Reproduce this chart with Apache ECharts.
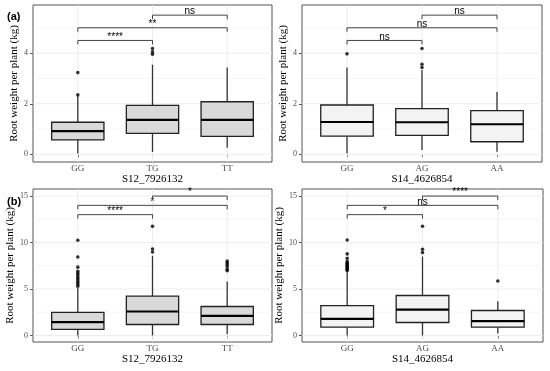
<!DOCTYPE html>
<html><head><meta charset="utf-8">
<script src="https://cdn.jsdelivr.net/npm/echarts@6/dist/echarts.min.js"></script>
<style>html,body{margin:0;padding:0;background:#fff}#c{width:550px;height:371px}</style>
</head><body><div id="c"></div>
<script>
// ---------- data ----------
const catsS12 = ['GG', 'TG', 'TT'];
const catsS14 = ['GG', 'AG', 'AA'];
const snpS12 = 'S12_7926132';
const snpS14 = 'S14_4626854';
const yTitle = 'Root weight per plant (kg)';

// boxes: [whiskerLow, Q1, median, Q3, whiskerHigh]
const boxA_S12 = [[0.04, 0.57, 0.92, 1.27, 2.3], [0.1, 0.83, 1.36, 1.94, 3.54], [0.26, 0.71, 1.36, 2.08, 3.43]];
const boxA_S14 = [[0.04, 0.72, 1.28, 1.95, 3.43], [0.17, 0.75, 1.27, 1.81, 3.33], [0.1, 0.5, 1.19, 1.73, 2.46]];
const boxB_S12 = [[0, 0.65, 1.43, 2.48, 5.13], [0, 1.18, 2.58, 4.23, 8.58], [0.14, 1.18, 2.12, 3.12, 5.82]];
const boxB_S14 = [[0, 0.9, 1.79, 3.22, 6.95], [0, 1.4, 2.79, 4.3, 8.49], [0.21, 0.9, 1.54, 2.69, 3.69]];

// outliers: [category index (1-based), value]
const outA_S12 = [[1, 2.35], [1, 3.23], [2, 3.96], [2, 4.05], [2, 4.18]];
const outA_S14 = [[1, 3.97], [2, 3.43], [2, 3.56], [2, 4.18]];
const outB_S12 = [[1, 5.3], [1, 5.5], [1, 5.7], [1, 5.9], [1, 6.1], [1, 6.3], [1, 6.5], [1, 6.7], [1, 6.9], [1, 7.35], [1, 8.44], [1, 10.25],
  [2, 8.98], [2, 9.3], [2, 11.74],
  [3, 6.96], [3, 7.1], [3, 7.4], [3, 7.6], [3, 7.8], [3, 8.0]];
const outB_S14 = [[1, 7.0], [1, 7.1], [1, 7.2], [1, 7.3], [1, 7.4], [1, 7.5], [1, 7.6], [1, 7.7], [1, 7.8], [1, 7.95], [1, 8.3], [1, 8.78], [1, 10.28],
  [2, 8.92], [2, 9.28], [2, 11.75],
  [3, 5.87]];

// brackets: [from cat, to cat, height]
const brA_S12 = [[1, 2, 4.5], [1, 3, 5.0], [2, 3, 5.5]];
const brA_S14 = [[1, 2, 4.5], [1, 3, 5.0], [2, 3, 5.5]];
const brB_S12 = [[1, 2, 13.0], [1, 3, 14.0], [2, 3, 15.0]];
const brB_S14 = [[1, 2, 13.0], [1, 3, 14.0], [2, 3, 15.0]];
const sigA_S12 = ['****', '**', 'ns'];
const sigA_S14 = ['ns', 'ns', 'ns'];
const sigB_S12 = ['****', '*', '*'];
const sigB_S14 = ['*', 'ns', '****'];

const ticksA = [0, 2, 4];
const minorA = [1, 3, 5];
const ticksB = [0, 5, 10, 15];
const minorB = [2.5, 7.5, 12.5];
const rangeA = [-0.3, 5.9];
const rangeB = [-0.7, 15.76];

// ---------- chart ----------
const SERIF = '"Liberation Serif", "DejaVu Serif", serif';
const SANS = '"Liberation Sans", Arial, sans-serif';
const chart = echarts.init(document.getElementById('c'), null, {renderer: 'canvas'});

const panels = [
  {grid: {left: 33, top: 5, width: 239, height: 157}, cats: catsS12, snp: snpS12, box: boxA_S12, out: outA_S12, br: brA_S12, sig: sigA_S12, ticks: ticksA, minor: minorA, range: rangeA, fill: '#d9d9d9'},
  {grid: {left: 302, top: 5, width: 240, height: 157}, cats: catsS14, snp: snpS14, box: boxA_S14, out: outA_S14, br: brA_S14, sig: sigA_S14, ticks: ticksA, minor: minorA, range: rangeA, fill: '#f3f3f3'},
  {grid: {left: 33, top: 189, width: 239, height: 153}, cats: catsS12, snp: snpS12, box: boxB_S12, out: outB_S12, br: brB_S12, sig: sigB_S12, ticks: ticksB, minor: minorB, range: rangeB, fill: '#d9d9d9'},
  {grid: {left: 302, top: 189, width: 241, height: 153}, cats: catsS14, snp: snpS14, box: boxB_S14, out: outB_S14, br: brB_S14, sig: sigB_S14, ticks: ticksB, minor: minorB, range: rangeB, fill: '#f3f3f3'}
];

const grids = [], xAxes = [], yAxes = [], series = [];
panels.forEach((p, i) => {
  grids.push(Object.assign({show: true, borderColor: '#555', borderWidth: 1, backgroundColor: 'transparent'}, p.grid));
  xAxes.push({
    type: 'value', gridIndex: i, min: 0.4, max: 3.6,
    name: p.snp, nameLocation: 'middle', nameGap: 11,
    nameTextStyle: {fontFamily: SERIF, fontSize: 11, color: '#000'},
    axisLine: {show: false}, splitLine: {show: false},
    axisTick: {show: true, customValues: [1, 2, 3], length: 3, lineStyle: {color: '#555'}},
    axisLabel: {customValues: [1, 2, 3], margin: 2, fontFamily: SERIF, fontSize: 9, color: '#4d4d4d',
      formatter: v => p.cats[Math.round(v) - 1] || ''}
  });
  yAxes.push({
    type: 'value', gridIndex: i, min: p.range[0], max: p.range[1],
    name: yTitle, nameLocation: 'middle', nameGap: 13,
    nameTextStyle: {fontFamily: SERIF, fontSize: 11, color: '#000'},
    axisLine: {show: false}, splitLine: {show: false},
    axisTick: {show: true, customValues: p.ticks, length: 3, lineStyle: {color: '#555'}},
    axisLabel: {customValues: p.ticks, margin: 5, fontFamily: SERIF, fontSize: 8, color: '#4d4d4d'}
  });
  // grid lines
  const gl = [];
  p.ticks.forEach(v => gl.push([0, v, 1]));
  p.minor.forEach(v => gl.push([0, v, 0]));
  [1, 2, 3].forEach(v => gl.push([1, v, 1]));
  series.push({
    type: 'custom', xAxisIndex: i, yAxisIndex: i, silent: true, z: 1,
    data: gl,
    renderItem: (params, api) => {
      const cs = params.coordSys;
      const vert = api.value(0) === 1, val = api.value(1), major = api.value(2) === 1;
      const w = major ? 0.9 : 0.5;
      if (vert) {
        const x = api.coord([val, p.range[0]])[0];
        return {type: 'line', shape: {x1: x, y1: cs.y, x2: x, y2: cs.y + cs.height}, style: {stroke: '#ebebeb', lineWidth: w}};
      }
      const y = api.coord([1, val])[1];
      return {type: 'line', shape: {x1: cs.x, y1: y, x2: cs.x + cs.width, y2: y}, style: {stroke: '#ebebeb', lineWidth: w}};
    }
  });
  // boxes
  series.push({
    type: 'custom', xAxisIndex: i, yAxisIndex: i, silent: true, z: 3,
    data: p.box.map((b, k) => [k + 1].concat(b)),
    renderItem: (params, api) => {
      const x = api.value(0);
      const lo = api.coord([x, api.value(1)]), q1 = api.coord([x, api.value(2)]),
        md = api.coord([x, api.value(3)]), q3 = api.coord([x, api.value(4)]), hi = api.coord([x, api.value(5)]);
      const hw = api.coord([x + 0.35, 0])[0] - api.coord([x, 0])[0];
      const cx = lo[0];
      return {type: 'group', children: [
        {type: 'line', shape: {x1: cx, y1: lo[1], x2: cx, y2: q1[1]}, style: {stroke: '#333', lineWidth: 1.3}},
        {type: 'line', shape: {x1: cx, y1: q3[1], x2: cx, y2: hi[1]}, style: {stroke: '#333', lineWidth: 1.3}},
        {type: 'rect', shape: {x: cx - hw, y: q3[1], width: 2 * hw, height: q1[1] - q3[1]}, style: {fill: p.fill, stroke: '#222', lineWidth: 1.3}},
        {type: 'line', shape: {x1: cx - hw, y1: md[1], x2: cx + hw, y2: md[1]}, style: {stroke: '#000', lineWidth: 2.2}}
      ]};
    }
  });
  // outliers
  series.push({
    type: 'scatter', xAxisIndex: i, yAxisIndex: i, silent: true, z: 4,
    data: p.out, symbol: 'circle', symbolSize: 3.6, itemStyle: {color: '#000'}
  });
  // brackets
  series.push({
    type: 'custom', xAxisIndex: i, yAxisIndex: i, silent: true, z: 5,
    data: p.br,
    renderItem: (params, api) => {
      const a = api.coord([api.value(0), api.value(2)]);
      const b = api.coord([api.value(1), api.value(2)]);
      const tip = 4;
      return {type: 'group', children: [
        {type: 'polyline', shape: {points: [[a[0], a[1] + tip], [a[0], a[1]], [b[0], b[1]], [b[0], b[1] + tip]]},
          style: {stroke: '#444', lineWidth: 1, fill: null}},
        {type: 'text', style: {x: (a[0] + b[0]) / 2, y: a[1] + 1.5, text: p.sig[params.dataIndex],
          align: 'center', verticalAlign: 'bottom', fontFamily: SANS, fontSize: 10, fill: '#000'}}
      ]};
    }
  });
});

chart.setOption({
  animation: false,
  grid: grids, xAxis: xAxes, yAxis: yAxes, series: series,
  graphic: [
    {type: 'text', left: 7, top: 11, style: {text: '(a)', fontFamily: SANS, fontWeight: 'bold', fontSize: 11, fill: '#000'}},
    {type: 'text', left: 7, top: 196, style: {text: '(b)', fontFamily: SANS, fontWeight: 'bold', fontSize: 11, fill: '#000'}}
  ]
});
</script></body></html>
